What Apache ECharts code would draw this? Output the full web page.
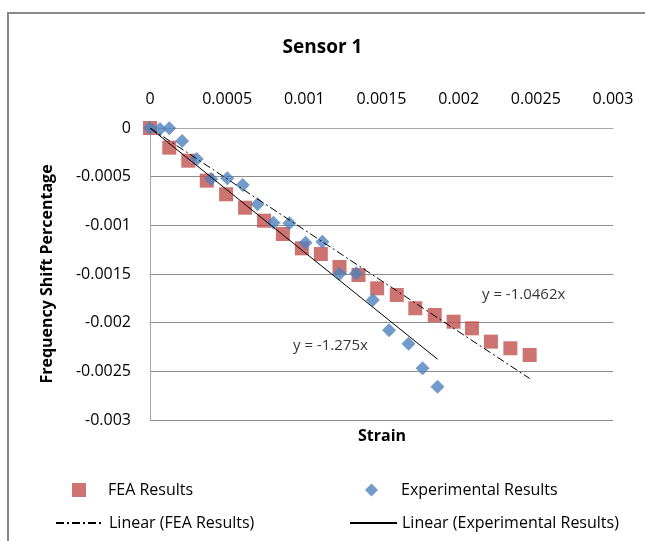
<!DOCTYPE html>
<html>
<head>
<meta charset="utf-8">
<script src="https://cdn.jsdelivr.net/npm/echarts@6/dist/echarts.min.js"></script>
<style>html,body{margin:0;padding:0;background:#fff}#c{width:645px;height:541px}</style>
</head>
<body>
<div id="c"></div>
<script>
// FEA results (strain, frequency shift percentage)
const feaStrain = [0, 0.000125, 0.000248, 0.000368, 0.000493, 0.000616, 0.000739, 0.000861, 0.000984, 0.001107, 0.001228, 0.001351, 0.001472, 0.001599, 0.001719, 0.001845, 0.001967, 0.002086, 0.002209, 0.002335, 0.00246];
const feaShift = [0, -0.000202, -0.000336, -0.000541, -0.000681, -0.000819, -0.000952, -0.001089, -0.001236, -0.001295, -0.001428, -0.00151, -0.001647, -0.001716, -0.001852, -0.001921, -0.00199, -0.002058, -0.002195, -0.002263, -0.002332];
// Experimental results
const expStrain = [0, 0.000065, 0.000125, 0.000208, 0.000303, 0.000396, 0.000501, 0.000601, 0.000697, 0.0008, 0.000903, 0.001008, 0.001117, 0.001228, 0.001336, 0.001444, 0.001549, 0.001675, 0.001766, 0.001863];
const expShift = [0, -0.00001, -0.000003, -0.000134, -0.000318, -0.000524, -0.000517, -0.000586, -0.000783, -0.000973, -0.000979, -0.001178, -0.001168, -0.001497, -0.001493, -0.001767, -0.002078, -0.002216, -0.002469, -0.002658];
// Linear trendlines (through origin)
const feaSlope = -1.0462;
const expSlope = -1.275;
const feaLabel = 'y = -1.0462x';
const expLabel = 'y = -1.275x';
const feaLabelAt = [0.002151, -0.001716];
const expLabelAt = [0.000927, -0.00224];
// Axis ticks
const xTicks = [0, 0.0005, 0.001, 0.0015, 0.002, 0.0025, 0.003];
const yTicks = [0, -0.0005, -0.001, -0.0015, -0.002, -0.0025, -0.003];

const FONT = 'Open Sans';
const pair = (xs, ys) => xs.map((x, i) => [x, ys[i]]);
const feaMax = Math.max(...feaStrain);
const expMax = Math.max(...expStrain);
const trend = (slope, xmax) => [[0, 0], [xmax, slope * xmax]];
const fmt = v => String(+(+v).toFixed(4));

const chart = echarts.init(document.getElementById('c'), null, {renderer: 'canvas'});
const legendText = {fontFamily: FONT, fontSize: 16, color: '#000'};
chart.setOption({
  animation: false,
  backgroundColor: '#fff',
  title: {
    text: 'Sensor 1', left: 'center', top: 33,
    textStyle: {fontFamily: FONT, fontSize: 19, fontWeight: 'bold', color: '#000'}
  },
  grid: {left: 150, top: 128, right: 32, bottom: 121, containLabel: false},
  xAxis: {
    type: 'value', position: 'top',
    min: xTicks[0], max: xTicks[xTicks.length - 1], interval: xTicks[1] - xTicks[0],
    axisLine: {show: true, onZero: false, lineStyle: {color: '#a6a6a6', width: 1}},
    axisTick: {show: false},
    splitLine: {show: false},
    axisLabel: {formatter: fmt, margin: 21, fontFamily: FONT, fontSize: 16, color: '#000'}
  },
  yAxis: {
    type: 'value',
    min: yTicks[yTicks.length - 1], max: yTicks[0], interval: yTicks[0] - yTicks[1],
    axisLine: {show: true, lineStyle: {color: '#a6a6a6', width: 1}},
    axisTick: {show: false},
    splitLine: {show: true, lineStyle: {color: '#8c8c8c', width: 1}},
    axisLabel: {formatter: fmt, margin: 19, fontFamily: FONT, fontSize: 16, color: '#000'},
    name: 'Frequency Shift Percentage', nameLocation: 'middle', nameRotate: 90, nameGap: 95,
    nameTextStyle: {fontFamily: FONT, fontSize: 16, fontWeight: 'bold', color: '#000'}
  },
  legend: [
    {data: [{name: 'FEA Results', icon: 'rect'}], left: 67, top: 477, itemWidth: 14, itemHeight: 14,
     textStyle: Object.assign({padding: [0, 0, 0, 17]}, legendText)},
    {data: [{name: 'Experimental Results', icon: 'diamond'}], left: 360, top: 477, itemWidth: 13, itemHeight: 13,
     textStyle: Object.assign({padding: [0, 0, 0, 18]}, legendText)},
    {data: ['Linear (FEA Results)'], left: 50, top: 510, itemWidth: 48, itemHeight: 14,
     itemStyle: {opacity: 0}, textStyle: legendText},
    {data: ['Linear (Experimental Results)'], left: 344, top: 510, itemWidth: 47, itemHeight: 14,
     itemStyle: {opacity: 0}, textStyle: legendText}
  ],
  graphic: [
    {type: 'rect', shape: {x: 8, y: 13, width: 800, height: 700}, style: {fill: 'none', stroke: '#8a8a8a', lineWidth: 2}, silent: true, z: 100},
    {type: 'text', left: 358, top: 428, style: {text: 'Strain', font: 'bold 16px "' + FONT + '"', fill: '#000'}}
  ],
  series: [
    {name: 'FEA Results', type: 'scatter', symbol: 'rect', symbolSize: 14, itemStyle: {color: '#c0504d'},
     data: pair(feaStrain, feaShift), z: 2},
    {name: 'Experimental Results', type: 'scatter', symbol: 'diamond', symbolSize: 14, itemStyle: {color: '#4f81bd'},
     data: pair(expStrain, expShift), z: 3},
    {name: 'Linear (FEA Results)', type: 'line', symbol: 'none', data: trend(feaSlope, feaMax), z: 4,
     lineStyle: {color: '#000', width: 1, type: [8, 3, 2, 3]}, itemStyle: {color: '#000'}},
    {name: 'Linear (Experimental Results)', type: 'line', symbol: 'none', data: trend(expSlope, expMax), z: 4,
     lineStyle: {color: '#000', width: 1, type: 'solid'}, itemStyle: {color: '#000'}},
    {name: 'labels', type: 'scatter', symbolSize: 0, silent: true, z: 5,
     data: [
       {value: feaLabelAt, label: {formatter: feaLabel}},
       {value: expLabelAt, label: {formatter: expLabel}}
     ],
     label: {show: true, position: 'right', distance: 0, fontFamily: FONT, fontSize: 15, color: '#000'}}
  ]
});
</script>
</body>
</html>
